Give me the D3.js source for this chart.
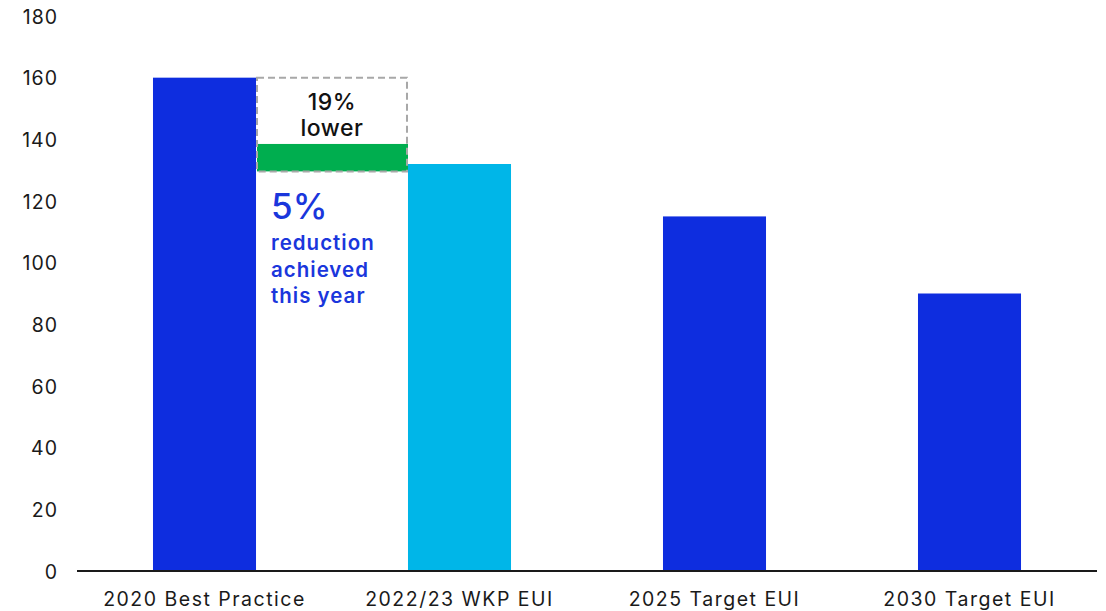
<!DOCTYPE html>
<html>
<head>
<meta charset="utf-8">
<script src="https://cdn.jsdelivr.net/npm/d3@7"></script>
<style>
  html, body { margin: 0; padding: 0; background: #ffffff; }
  svg { display: block; font-family: "Inter", "Lato", sans-serif; }
</style>
</head>
<body>
<svg id="chart" width="1106" height="611"></svg>
<script>
// Energy use intensity by benchmark
const categories = ["2020 Best Practice", "2022/23 WKP EUI", "2025 Target EUI", "2030 Target EUI"];
const values = [160, 132, 115, 90];
const barColors = ["#0e2ddf", "#00b6e8", "#0e2ddf", "#0e2ddf"];
const yTicks = [0, 20, 40, 60, 80, 100, 120, 140, 160, 180];

// Gap annotation between the best-practice bar and this year's figure
const gapPercent = 19;           // "19% lower"
const gapTop = values[0];
const gapBottom = values[0] * (1 - gapPercent / 100);
const reductionPercent = 5;      // "5% reduction achieved this year"
const reductionTop = 138.5;
const reductionBottom = gapBottom;

const svg = d3.select("#chart");
const margin = { left: 77, right: 9, top: 16, bottom: 40 };
const width = 1106, height = 611;

const x = d3.scaleBand()
  .domain(categories)
  .range([margin.left, width - margin.right])
  .paddingInner(0.596)
  .paddingOuter(0.298);

const y = d3.scaleLinear()
  .domain([0, 180])
  .range([height - margin.bottom, margin.top]);

// Bars
svg.append("g")
  .selectAll("rect")
  .data(categories)
  .join("rect")
  .attr("x", d => x(d))
  .attr("y", (d, i) => y(values[i]))
  .attr("width", x.bandwidth())
  .attr("height", (d, i) => y(0) - y(values[i]))
  .attr("fill", (d, i) => barColors[i]);

// Y axis labels (no line)
const yAxis = svg.append("g")
  .attr("transform", `translate(${margin.left - 19},0)`)
  .call(d3.axisLeft(y).tickValues(yTicks).tickSize(0).tickPadding(0));
yAxis.select(".domain").remove();
yAxis.selectAll("text")
  .attr("font-family", "Inter, Lato, sans-serif")
  .attr("font-size", 19.5)
  .attr("letter-spacing", 1)
  .attr("fill", "#1a1a1a")
  .attr("dy", "0.36em");

// X axis with baseline
const xAxis = svg.append("g")
  .attr("transform", `translate(0,${y(0)})`)
  .call(d3.axisBottom(x).tickSize(0).tickPadding(20));
xAxis.select(".domain")
  .attr("stroke", "#1a1a1a")
  .attr("stroke-width", 2)
  .attr("d", `M${margin.left},0H${width - margin.right}`);
xAxis.selectAll("text")
  .attr("font-family", "Inter, Lato, sans-serif")
  .attr("font-size", 19.5)
  .attr("letter-spacing", 1.5)
  .attr("fill", "#1a1a1a")
  .attr("dy", "0.75em");

// Annotation box spans from the end of the first bar to the start of the second
const boxLeft = x(categories[0]) + x.bandwidth();
const boxRight = x(categories[1]);

svg.append("rect")
  .attr("x", boxLeft + 1)
  .attr("y", y(reductionTop))
  .attr("width", boxRight - boxLeft - 1)
  .attr("height", y(reductionBottom) - y(reductionTop))
  .attr("fill", "#00ae4f");

svg.append("rect")
  .attr("x", boxLeft + 1)
  .attr("y", y(gapTop))
  .attr("width", boxRight - boxLeft - 2)
  .attr("height", y(gapBottom) - y(gapTop))
  .attr("fill", "none")
  .attr("stroke", "#a8a8a8")
  .attr("stroke-width", 2)
  .attr("stroke-dasharray", "7,4");

const boxMid = (boxLeft + boxRight) / 2;
const gapText = svg.append("text")
  .attr("text-anchor", "middle")
  .attr("font-family", "Inter, Lato, sans-serif")
  .attr("font-size", 23)
  .attr("font-weight", 500)
  .attr("letter-spacing", 0.5)
  .attr("fill", "#111111");
gapText.append("tspan").attr("x", boxMid).attr("y", 110).text(`${gapPercent}%`);
gapText.append("tspan").attr("x", boxMid).attr("y", 136).text("lower");

const noteX = boxLeft + 15;
svg.append("text")
  .attr("x", noteX)
  .attr("y", 219)
  .attr("font-family", "Inter, Lato, sans-serif")
  .attr("font-size", 35)
  .attr("font-weight", 500)
  .attr("fill", "#1a36dc")
  .text(`${reductionPercent}%`);

const note = svg.append("text")
  .attr("font-family", "Inter, Lato, sans-serif")
  .attr("font-size", 20.5)
  .attr("font-weight", 600)
  .attr("letter-spacing", 1)
  .attr("fill", "#1a36dc");
["reduction", "achieved", "this year"].forEach((line, i) => {
  note.append("tspan").attr("x", noteX).attr("y", 250 + i * 26.5).text(line);
});
</script>
</body>
</html>
